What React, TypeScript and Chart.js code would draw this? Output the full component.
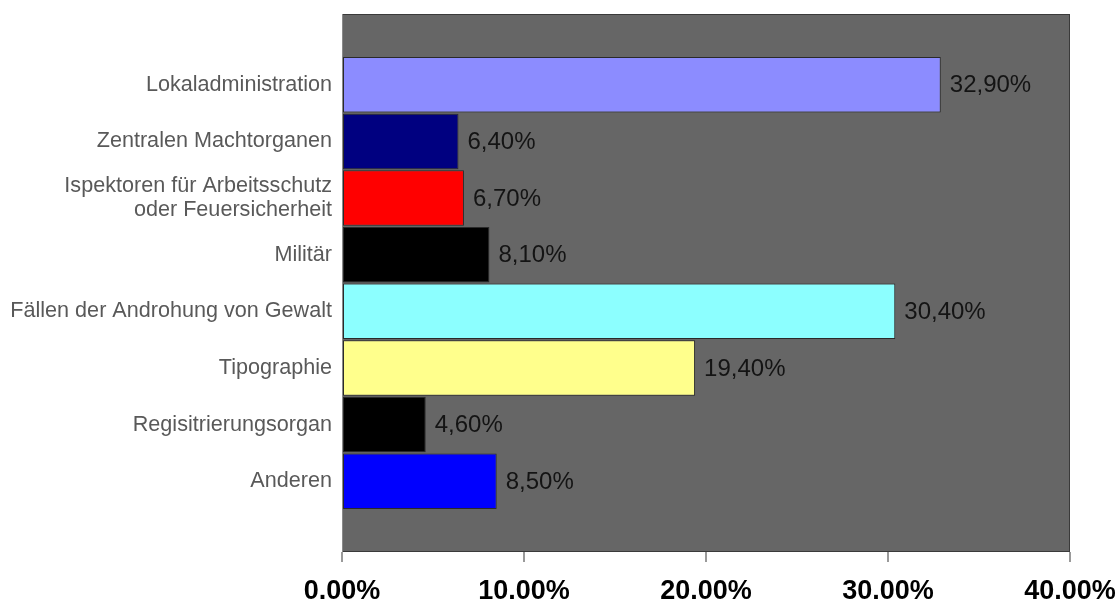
import React, { useEffect, useRef } from "react";
import { Chart, registerables } from "chart.js";

Chart.register(...registerables);

// Categories, top to bottom
const categories: (string | string[])[] = [
  "Lokaladministration",
  "Zentralen Machtorganen",
  ["Ispektoren für Arbeitsschutz", "oder Feuersicherheit"],
  "Militär",
  "Fällen der Androhung von Gewalt",
  "Tipographie",
  "Regisitrierungsorgan",
  "Anderen",
];

// Share of cases, percent
const shares: number[] = [32.9, 6.4, 6.7, 8.1, 30.4, 19.4, 4.6, 8.5];

const barColors: string[] = [
  "#8c8cff",
  "#000080",
  "#ff0000",
  "#000000",
  "#8cffff",
  "#ffff8c",
  "#000000",
  "#0000ff",
];

// Value axis ticks
const axisTicks: number[] = [0, 10, 20, 30, 40];

const plotBackground = {
  id: "plotBackground",
  beforeDatasetsDraw(chart: Chart) {
    const { ctx, chartArea: a } = chart;
    ctx.save();
    ctx.fillStyle = "#666666";
    ctx.fillRect(a.left, a.top, a.right - a.left, a.bottom - a.top);
    ctx.strokeStyle = "#3a3a3a";
    ctx.lineWidth = 1;
    ctx.strokeRect(a.left + 0.5, a.top + 0.5, a.right - a.left - 1, a.bottom - a.top - 1);
    ctx.strokeStyle = "#8a8a8a";
    ctx.beginPath();
    ctx.moveTo(a.left + 0.5, a.top);
    ctx.lineTo(a.left + 0.5, a.bottom);
    ctx.stroke();
    ctx.restore();
  },
};

const valueLabels = {
  id: "valueLabels",
  afterDatasetsDraw(chart: Chart) {
    const { ctx } = chart;
    const meta = chart.getDatasetMeta(0);
    ctx.save();
    ctx.font = '24px "Liberation Sans", Arial, sans-serif';
    ctx.fillStyle = "#141414";
    ctx.textAlign = "left";
    ctx.textBaseline = "middle";
    meta.data.forEach((el: any, i: number) => {
      const text = shares[i].toFixed(2).replace(".", ",") + "%";
      ctx.fillText(text, el.x + 9, el.y + 1);
    });
    ctx.restore();
  },
};

export default function App() {
  const canvasRef = useRef<HTMLCanvasElement | null>(null);

  useEffect(() => {
    if (!canvasRef.current) return;
    const chart = new Chart(canvasRef.current, {
      type: "bar",
      data: {
        datasets: [
          {
            data: shares.map((v, i) => ({ x: v, y: i })),
            backgroundColor: barColors,
            borderColor: "#2a2a2a",
            borderWidth: 1,
            borderSkipped: false,
            barPercentage: 1,
            categoryPercentage: 0.98,
          },
        ],
      },
      options: {
        indexAxis: "y",
        animation: false,
        responsive: true,
        maintainAspectRatio: false,
        layout: { padding: { top: 14, right: 49, bottom: 0, left: 0 } },
        plugins: {
          legend: { display: false },
          tooltip: { enabled: false },
        },
        scales: {
          x: {
            type: "linear",
            min: axisTicks[0],
            max: axisTicks[axisTicks.length - 1],
            afterBuildTicks: (scale: any) => {
              scale.ticks = axisTicks.map((v) => ({ value: v }));
            },
            afterFit: (scale: any) => {
              scale.height = 52;
              scale.paddingLeft = 0;
              scale.paddingRight = 0;
            },
            ticks: {
              callback: (v: any) => Number(v).toFixed(2) + "%",
              color: "#000000",
              font: { family: '"Liberation Sans", Arial, sans-serif', size: 27, weight: "bold" },
              padding: 13,
              maxRotation: 0,
            },
            grid: {
              drawOnChartArea: false,
              drawTicks: true,
              tickLength: 10,
              color: "#9a9a9a",
              lineWidth: 2,
            },
            border: { display: false },
          },
          y: {
            type: "linear",
            reverse: true,
            offset: false,
            min: -1.25,
            max: 8.25,
            afterBuildTicks: (scale: any) => {
              scale.ticks = categories.map((_, i) => ({ value: i }));
            },
            afterFit: (scale: any) => {
              scale.width = 342;
              scale.paddingTop = 0;
              scale.paddingBottom = 0;
            },
            ticks: {
              callback: (v: any) => categories[Number(v)],
              color: "#595959",
              font: { family: '"Liberation Sans", Arial, sans-serif', size: 21.6, lineHeight: 1.08 },
              padding: 10,
            },
            grid: { display: false, drawTicks: false, offset: false },
            border: { display: false },
          },
        },
      },
      plugins: [plotBackground, valueLabels],
    });
    return () => chart.destroy();
  }, []);

  return (
    <div style={{ position: "absolute", left: 0, top: 0, width: 1119, height: 604, background: "#ffffff" }}>
      <canvas ref={canvasRef} />
    </div>
  );
}
